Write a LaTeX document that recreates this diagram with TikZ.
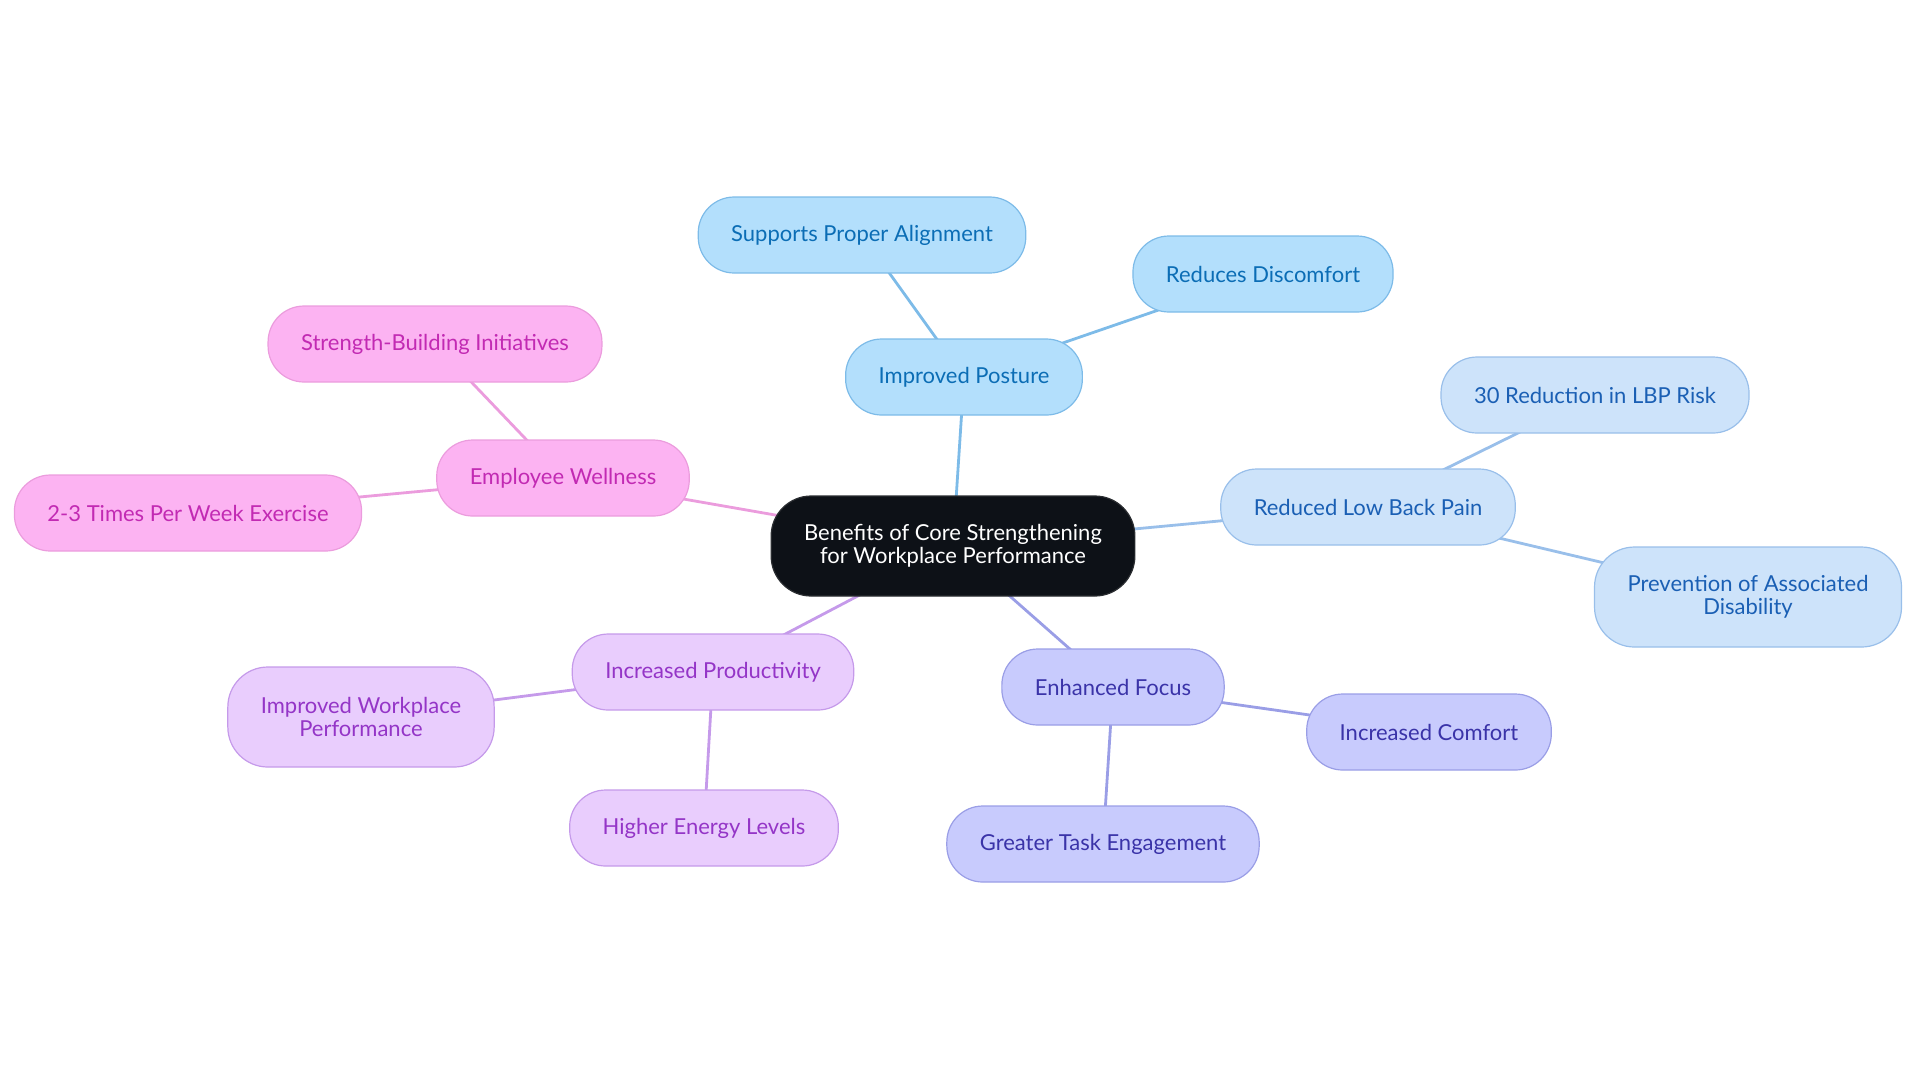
\documentclass[tikz,border=0pt]{standalone}
\usepackage{fontspec}
\setmainfont{Lato}
\usetikzlibrary{backgrounds}

\definecolor{rootfill}{HTML}{0D1117}
\definecolor{postfill}{HTML}{B3DFFC}
\definecolor{posttext}{HTML}{0B6DB5}
\definecolor{postline}{HTML}{7DBBE8}
\definecolor{backfill}{HTML}{CDE3FA}
\definecolor{backtext}{HTML}{1A5FB4}
\definecolor{backline}{HTML}{99BFEA}
\definecolor{focusfill}{HTML}{C8CBFD}
\definecolor{focustext}{HTML}{3A33A8}
\definecolor{focusline}{HTML}{9A9EE6}
\definecolor{prodfill}{HTML}{E9CDFD}
\definecolor{prodtext}{HTML}{9435C7}
\definecolor{prodline}{HTML}{C59AEA}
\definecolor{wellfill}{HTML}{FCB3F2}
\definecolor{welltext}{HTML}{C22AB3}
\definecolor{wellline}{HTML}{EB9CDD}

\tikzset{
  topic/.style={rounded corners=18pt,minimum height=38pt,inner xsep=16.5pt,
    font=\fontsize{11}{11.5}\selectfont,align=center,line width=0.6pt},
  tall/.style={minimum height=50pt,rounded corners=20pt},
  root/.style={topic,tall,fill=rootfill,draw=rootfill!75!gray,text=white},
  posture/.style={topic,fill=postfill,draw=postline,text=posttext},
  backpain/.style={topic,fill=backfill,draw=backline,text=backtext},
  focus/.style={topic,fill=focusfill,draw=focusline,text=focustext},
  prod/.style={topic,fill=prodfill,draw=prodline,text=prodtext},
  well/.style={topic,fill=wellfill,draw=wellline,text=welltext},
  link/.style={line width=1.4pt}
}

\begin{document}
\begin{tikzpicture}[x=0.5pt,y=-0.5pt]
  \useasboundingbox (0,0) rectangle (1920,1083);
  % centre
  \node[root] (core) at (953,546) {Benefits of Core Strengthening\\for Workplace Performance};
  % posture branch
  \node[posture] (posture) at (964,377) {Improved Posture};
  \node[posture] (align) at (862,235) {Supports Proper Alignment};
  \node[posture] (discomfort) at (1263,274) {Reduces Discomfort};
  % back pain branch
  \node[backpain] (lbp) at (1368,507) {Reduced Low Back Pain};
  \node[backpain] (risk) at (1595,395) {30 Reduction in LBP Risk};
  \node[backpain,tall] (disab) at (1748,597) {Prevention of Associated\\Disability};
  % focus branch
  \node[focus] (focus) at (1113,687) {Enhanced Focus};
  \node[focus] (comfort) at (1429,732) {Increased Comfort};
  \node[focus] (engage) at (1103,844) {Greater Task Engagement};
  % productivity branch
  \node[prod] (prod) at (713,672) {Increased Productivity};
  \node[prod,tall] (workperf) at (361,717) {Improved Workplace\\Performance};
  \node[prod] (energy) at (704,828) {Higher Energy Levels};
  % wellness branch
  \node[well] (well) at (563,478) {Employee Wellness};
  \node[well] (initiat) at (435,344) {Strength-Building Initiatives};
  \node[well] (exercise) at (188,513) {2-3 Times Per Week Exercise};

  \begin{scope}[on background layer]
    \draw[link,postline] (core.center) -- (posture.center);
    \draw[link,postline] (posture.center) -- (align.center);
    \draw[link,postline] (posture.center) -- (discomfort.center);
    \draw[link,backline] (core.center) -- (lbp.center);
    \draw[link,backline] (lbp.center) -- (risk.center);
    \draw[link,backline] (lbp.center) -- (disab.center);
    \draw[link,focusline] (core.center) -- (focus.center);
    \draw[link,focusline] (focus.center) -- (comfort.center);
    \draw[link,focusline] (focus.center) -- (engage.center);
    \draw[link,prodline] (core.center) -- (prod.center);
    \draw[link,prodline] (prod.center) -- (workperf.center);
    \draw[link,prodline] (prod.center) -- (energy.center);
    \draw[link,wellline] (core.center) -- (well.center);
    \draw[link,wellline] (well.center) -- (initiat.center);
    \draw[link,wellline] (well.center) -- (exercise.center);
  \end{scope}
\end{tikzpicture}
\end{document}
